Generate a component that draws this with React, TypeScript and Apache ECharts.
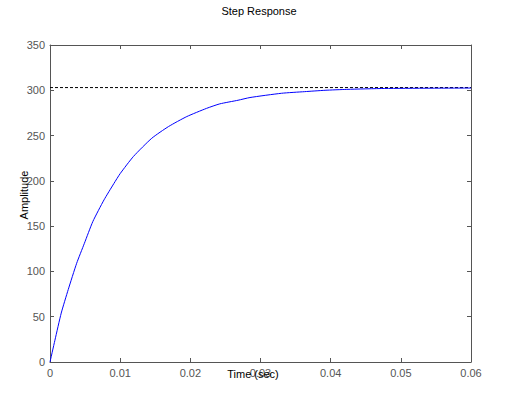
import React, { useEffect, useRef } from "react";
import * as echarts from "echarts";

const timeValues = [0, 0.0007, 0.0016, 0.0026, 0.0038, 0.0049, 0.0061, 0.0077, 0.0091, 0.01, 0.0119, 0.0145, 0.0169, 0.0195, 0.0223, 0.0242, 0.0268, 0.0285, 0.033, 0.0363, 0.0392, 0.0423, 0.0477, 0.06];
const amplitudeValues = [0, 24, 54, 80, 109, 131, 155, 179, 197, 208, 227, 247, 260, 271, 280, 285, 289, 292, 296.7, 298.5, 300, 301, 302, 302.5];
const steadyStateValue = 303;
const steadyStateTimes = [0, 0.06];

const titleText = "Step Response";
const xLabelText = "Time (sec)";
const yLabelText = "Amplitude";

const FONT = "Arial, 'Liberation Sans', sans-serif";

export default function App() {
  const ref = useRef<HTMLDivElement>(null);
  useEffect(() => {
    if (!ref.current) return;
    const chart = echarts.init(ref.current, null, { renderer: "svg" });
    const axisLine = { show: true, onZero: false, lineStyle: { color: "#555", width: 1 } };
    const axisTick = { show: true, inside: true, length: 4, lineStyle: { color: "#555", width: 1 } };
    const labelStyle = { color: "#555", fontSize: 11, fontFamily: FONT };
    chart.setOption({
      animation: false,
      backgroundColor: "#fff",
      title: {
        text: titleText,
        left: 254,
        textAlign: "center",
        top: 0,
        textStyle: { color: "#000", fontSize: 11, fontWeight: "normal", fontFamily: FONT },
      },
      grid: { left: 50, right: 41, top: 45, bottom: 33, containLabel: false },
      xAxis: [
        {
          type: "value",
          min: 0,
          max: 0.06,
          interval: 0.01,
          position: "bottom",
          axisLine,
          axisTick,
          splitLine: { show: false },
          axisLabel: {
            ...labelStyle,
            margin: 5,
            formatter: (v: number) => (v === 0 ? "0" : v.toFixed(2)),
          },
        },
        {
          type: "value",
          min: 0,
          max: 0.06,
          interval: 0.01,
          position: "top",
          axisLine,
          axisTick,
          splitLine: { show: false },
          axisLabel: { show: false },
        },
      ],
      yAxis: [
        {
          type: "value",
          min: 0,
          max: 350,
          interval: 50,
          position: "left",
          axisLine,
          axisTick,
          splitLine: { show: false },
          axisLabel: { ...labelStyle, margin: 5 },
        },
        {
          type: "value",
          min: 0,
          max: 350,
          interval: 50,
          position: "right",
          axisLine,
          axisTick,
          splitLine: { show: false },
          axisLabel: { show: false },
        },
      ],
      series: [
        {
          type: "line",
          data: steadyStateTimes.map((t) => [t, steadyStateValue]),
          showSymbol: false,
          symbol: "none",
          lineStyle: { color: "#000", width: 1, type: [3, 2] },
          z: 2,
        },
        {
          type: "line",
          data: timeValues.map((t, i) => [t, amplitudeValues[i]]),
          showSymbol: false,
          symbol: "none",
          smooth: 0.2,
          lineStyle: { color: "#0000ff", width: 1 },
          z: 3,
        },
      ],
      graphic: [
        {
          type: "text",
          x: 253,
          y: 374,
          style: {
            text: xLabelText,
            fill: "#000",
            font: `11px ${FONT}`,
            textAlign: "center",
            textVerticalAlign: "middle",
          },
          z: 10,
        },
        {
          type: "text",
          x: 24,
          y: 195,
          rotation: Math.PI / 2,
          style: {
            text: yLabelText,
            fill: "#000",
            font: `11px ${FONT}`,
            textAlign: "center",
            textVerticalAlign: "middle",
          },
          z: 10,
        },
      ],
    });
    return () => chart.dispose();
  }, []);
  return (
    <div
      ref={ref}
      style={{ position: "absolute", left: 0, top: 0, width: 512, height: 395 }}
    />
  );
}
